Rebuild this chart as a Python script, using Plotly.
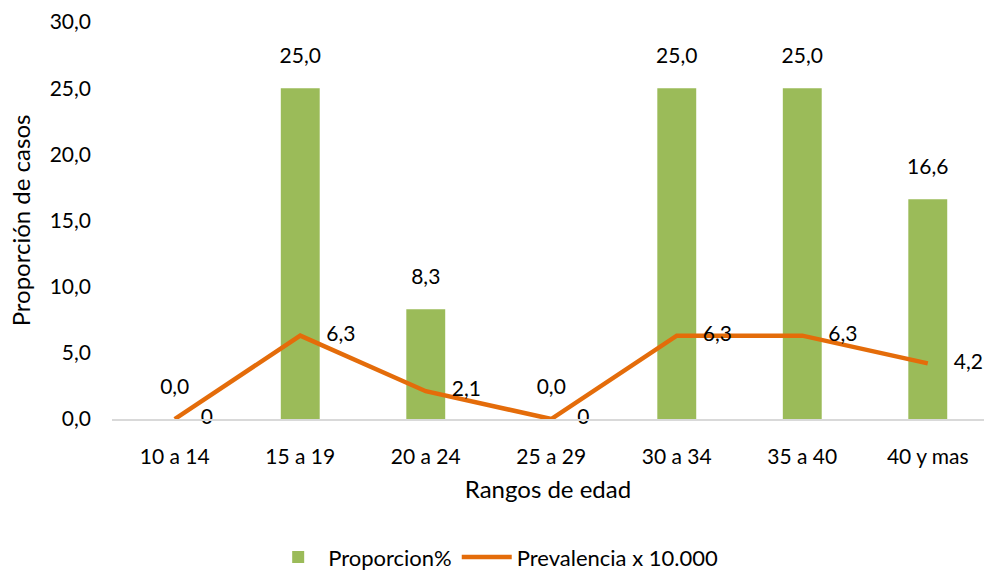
import plotly.graph_objects as go

categories = ["10 a 14", "15 a 19", "20 a 24", "25 a 29", "30 a 34", "35 a 40", "40 y mas"]
proporcion = [0.0, 25.0, 8.3, 0.0, 25.0, 25.0, 16.6]
prevalencia = [0.0, 6.3, 2.1, 0.0, 6.3, 6.3, 4.2]
y_ticks = [0, 5, 10, 15, 20, 25, 30]

def fmt(v):
    return f"{v:.1f}".replace(".", ",")

bar_text = [fmt(v) for v in proporcion]
line_text = ["0" if v == 0 else fmt(v) for v in prevalencia]

FONT = "Lato"
FS = 21
TFS = 24
fig = go.Figure()
fig.add_trace(go.Bar(
    x=categories, y=proporcion, name="Proporcion%",
    marker=dict(color="#9BBB59", line=dict(width=0)),
    width=0.31,
))
fig.add_trace(go.Scatter(
    x=categories, y=prevalencia, name="Prevalencia x 10.000",
    mode="lines+markers+text",
    line=dict(color="#E46C0A", width=4.5),
    marker=dict(size=40, color="rgba(0,0,0,0)", line=dict(width=0)),
    text=line_text, textposition="middle right", cliponaxis=False,
    textfont=dict(family=FONT, size=FS, color="#000000"),
))
# bar data labels (placed above each bar)
fig.add_trace(go.Scatter(
    x=categories, y=proporcion, mode="markers+text", showlegend=False, hoverinfo="skip",
    marker=dict(size=30, color="rgba(0,0,0,0)", line=dict(width=0)),
    text=bar_text, textposition="top center", cliponaxis=False,
    textfont=dict(family=FONT, size=FS, color="#000000"),
))

fig.update_layout(
    width=984, height=571,
    margin=dict(l=112, r=0, t=22, b=152, autoexpand=False),
    plot_bgcolor="white", paper_bgcolor="white",
    font=dict(family=FONT, size=FS, color="#000000"),
    separators=",.",
    showlegend=True,
    legend=dict(orientation="h", x=0.44, xanchor="center", y=-0.348, yanchor="middle",
                font=dict(family=FONT, size=22), itemwidth=50, tracegroupgap=0),
    xaxis=dict(
        range=[-0.5, 6.448], showgrid=False, showline=True, linecolor="#D9D9D9", linewidth=1.5,
        ticks="", tickfont=dict(family=FONT, size=FS), ticklabelstandoff=18,
        title=dict(text="Rangos de edad", font=dict(family=FONT, size=TFS), standoff=14),
    ),
    yaxis=dict(
        range=[0, 30], tickvals=y_ticks, tickformat=".1f", showgrid=False, zeroline=False,
        showline=False, ticks="", tickfont=dict(family=FONT, size=FS), ticklabelstandoff=20,
        title=dict(text="Proporción de casos", font=dict(family=FONT, size=TFS), standoff=12),
    ),
)

fig.write_html("out.html")
